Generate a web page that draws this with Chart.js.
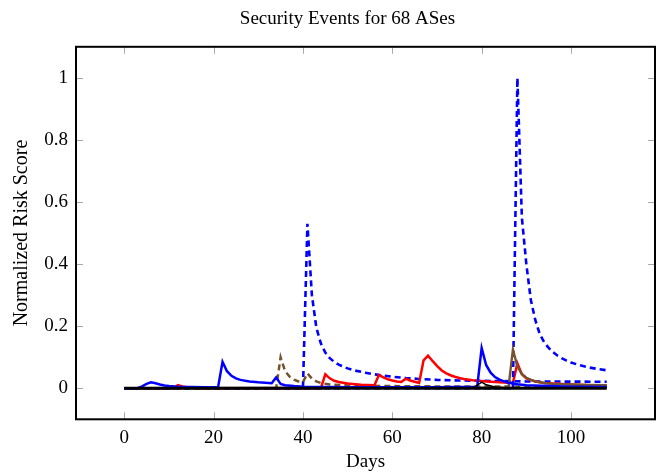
<!DOCTYPE html>
<html><head><meta charset="utf-8">
<script src="https://cdn.jsdelivr.net/npm/chart.js@4"></script>
<style>html,body{margin:0;padding:0;background:#fff}#c{display:block}</style>
</head><body>
<canvas id="c" width="660" height="472"></canvas>
<script>
// ---- data (day, normalized risk score) ----
const xTicks = [0, 20, 40, 60, 80, 100];
const yTicks = [0, 0.2, 0.4, 0.6, 0.8, 1];
const yTickLabels = ['0', '0.2', '0.4', '0.6', '0.8', '1'];

const zeroLine = [[0,0],[108,0]];
const blackBump = [[78,0],[80,0.02],[81,0.011],[83,0.004],[86,0]];
const blueSolid = [[0,0],[3,0],[4,0.006],[5,0.014],[6,0.019],[7,0.016],[8,0.012],[9,0.009],[10,0.007],[12,0.005],[15,0.004],[18,0.003],[21,0.003],
  [22,0.085],[23,0.055],[24,0.04],[25,0.032],[26,0.027],[28,0.022],[30,0.019],[33,0.016],[34,0.035],[35,0.014],[36,0.01],[38,0.007],[40,0.005],
  [45,0.004],[50,0.003],[60,0.003],[70,0.003],[79,0.005],[80,0.13],[81,0.075],[82,0.05],[83,0.036],[84,0.028],[85,0.022],[86,0.018],[88,0.013],
  [90,0.01],[95,0.007],[100,0.005],[108,0.004]];
const blueDashedA = [[0,0],[40,0],[41,0.53],[42,0.3],[43,0.195],[44,0.145],[45,0.115],[46,0.097],[47,0.085],[48,0.076],[50,0.064],[52,0.056],
  [54,0.05],[56,0.045],[58,0.041],[60,0.037],[63,0.033],[66,0.03],[70,0.027],[75,0.025],[80,0.024],[90,0.022],[108,0.021]];
const blueDashedB = [[0,0],[87,0],[88,1.0],[89,0.55],[90,0.4],[91,0.285],[92,0.22],[93,0.175],[94,0.148],[95,0.13],[96,0.116],[97,0.105],
  [98,0.096],[99,0.089],[100,0.083],[102,0.074],[104,0.067],[106,0.062],[108,0.058]];
const brownDashed = [[0,0],[34,0],[35,0.1],[36,0.055],[37,0.038],[38,0.028],[39,0.022],[40,0.02],[41,0.048],[42,0.031],[43,0.022],[44,0.017],
  [46,0.012],[50,0.009],[60,0.007],[70,0.006],[80,0.006],[90,0.005],[108,0.004]];
const brownSolid = [[0,0],[86,0.003],[87,0.125],[88,0.07],[89,0.046],[90,0.034],[91,0.027],[92,0.022],[94,0.017],[96,0.014],[100,0.012],[104,0.011],[108,0.01]];
const redSolid = [[0,0],[11,0],[12,0.01],[13,0.006],[14,0.003],[16,0],[44,0],[45,0.045],[46,0.032],[47,0.024],[48,0.02],[50,0.015],[53,0.011],[56,0.01],
  [57,0.043],[58,0.035],[59,0.029],[60,0.025],[61,0.022],[62,0.02],[63,0.031],[64,0.025],[65,0.021],[66,0.017],[67,0.09],[68,0.105],[69,0.088],
  [70,0.072],[71,0.058],[72,0.049],[73,0.042],[74,0.037],[75,0.033],[76,0.03],[78,0.026],[80,0.023],[82,0.021],[84,0.019],[86,0.018],[87,0.018],
  [88,0.08],[89,0.045],[90,0.032],[92,0.022],[94,0.017],[96,0.015],[100,0.012],[104,0.01],[108,0.009]];

const pts = a => a.map(([x, y]) => ({x, y}));
const BLUE = '#0000ff', RED = '#ff0000', BROWN = '#76532f', BLACK = '#000000';
const ds = (data, color, width, dash) => ({
  data: pts(data), borderColor: color, backgroundColor: color, borderWidth: width,
  borderDash: dash || [], pointRadius: 0, tension: 0, fill: false,
  borderJoinStyle: 'miter', borderCapStyle: 'butt'
});

const FONT = 'Liberation Serif';
const frame = {
  id: 'frame',
  afterDatasetsDraw(chart) {
    const {ctx, chartArea: a, scales: {x, y}} = chart;
    ctx.save();
    ctx.strokeStyle = '#a8a8a8';
    ctx.lineWidth = 1;
    ctx.beginPath();
    xTicks.forEach(v => {
      const px = Math.round(x.getPixelForValue(v)) + 0.5;
      ctx.moveTo(px, a.bottom); ctx.lineTo(px, a.bottom - 7);
      ctx.moveTo(px, a.top); ctx.lineTo(px, a.top + 7);
    });
    yTicks.forEach(v => {
      const py = Math.round(y.getPixelForValue(v)) + 0.5;
      ctx.moveTo(a.left, py); ctx.lineTo(a.left + 7, py);
      ctx.moveTo(a.right, py); ctx.lineTo(a.right - 7, py);
    });
    ctx.stroke();
    ctx.strokeStyle = '#000';
    ctx.lineWidth = 2;
    ctx.strokeRect(a.left, a.top, a.right - a.left, a.bottom - a.top);
    ctx.restore();
  }
};

new Chart(document.getElementById('c'), {
  type: 'line',
  data: {
    datasets: [
      ds(zeroLine, BLACK, 3.2),
      ds(blackBump, BLACK, 1.5),
      ds(blueSolid, BLUE, 2.5),
      ds(brownSolid, BROWN, 2.4),
      ds(blueDashedB, BLUE, 2.6, [6, 4]),
      ds(redSolid, RED, 2.5),
      ds(brownDashed, BROWN, 2.5, [6, 4]),
      ds(blueDashedA, BLUE, 2.6, [6, 4])
    ]
  },
  options: {
    responsive: false,
    animation: false,
    devicePixelRatio: 1,
    layout: {padding: {left: 40, right: 5, top: 0, bottom: 0}},
    plugins: {
      legend: {display: false},
      tooltip: {enabled: false},
      title: {
        display: true, text: 'Security Events for 68 ASes', color: '#000',
        font: {family: FONT, size: 19, weight: 'normal'},
        padding: {top: 8, bottom: 16}
      }
    },
    scales: {
      x: {
        type: 'linear', min: -10.8, max: 118.8,
        afterFit: s => { s.height = 52.7; },
        afterBuildTicks: s => { s.ticks = xTicks.map(v => ({value: v})); },
        grid: {display: false, drawTicks: false},
        border: {display: false},
        ticks: {color: '#000', padding: 7, maxRotation: 0, autoSkip: false,
          font: {family: FONT, size: 19}, callback: v => String(v)},
        title: {display: true, text: 'Days', color: '#000',
          font: {family: FONT, size: 19, lineHeight: 1.05}, padding: {top: 0, bottom: 0}}
      },
      y: {
        type: 'linear', min: -0.1, max: 1.1,
        afterFit: s => { s.width = 36; },
        afterBuildTicks: s => { s.ticks = yTicks.map(v => ({value: v})); },
        grid: {display: false, drawTicks: false},
        border: {display: false},
        ticks: {color: '#000', padding: 8, autoSkip: false,
          font: {family: FONT, size: 19},
          callback: (v) => { const i = yTicks.indexOf(v); return i >= 0 ? yTickLabels[i] : ''; }},
        title: {display: true, text: 'Normalized Risk Score', color: '#000',
          font: {family: FONT, size: 20}, padding: {top: -30, bottom: 0}}
      }
    }
  },
  plugins: [frame]
});
</script>
</body></html>
